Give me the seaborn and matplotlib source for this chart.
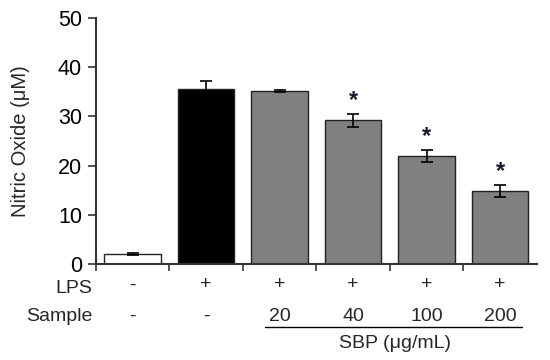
import matplotlib
matplotlib.use('Agg')
import matplotlib.pyplot as plt
import matplotlib.transforms as mtransforms
import numpy as np
import pandas as pd
import seaborn as sns

# data
groups = ['Control', 'LPS', 'SBP20', 'SBP40', 'SBP100', 'SBP200']
no_means = [2.0, 35.5, 35.2, 29.2, 22.0, 14.9]
no_errs = [0.2, 1.7, 0.2, 1.3, 1.2, 1.2]
signif = [False, False, False, True, True, True]
lps_row = ['-', '+', '+', '+', '+', '+']
sample_row = ['-', '-', '20', '40', '100', '200']
bar_colors = ['#ffffff', '#000000', '#808080', '#808080', '#808080', '#808080']

df = pd.DataFrame({'group': groups, 'no': no_means})

sns.set_style('white')
plt.rcParams['font.family'] = ['Liberation Sans', 'DejaVu Sans']

fig = plt.figure(figsize=(5.5, 3.6), dpi=100)
ax = fig.add_axes([0.1745, 0.2667, 0.8015, 0.6833])

sns.barplot(data=df, x='group', y='no', hue='group', palette=bar_colors,
            legend=False, width=0.77, edgecolor='#222222', linewidth=1.0,
            errorbar=None, ax=ax)

x = np.arange(len(groups))
ax.errorbar(x, no_means, yerr=no_errs, fmt='none', ecolor='black',
            elinewidth=1.2, capsize=4, capthick=1.2, zorder=3)

# significance stars
for i in range(len(groups)):
    if signif[i]:
        ax.text(x[i], no_means[i] + no_errs[i] + 0.4, '*', ha='center',
                va='bottom', fontsize=17, fontweight='bold', color='#1a1a2e')

ax.set_xlim(-0.5, len(groups) - 0.5)
ax.set_ylim(0, 50)
ax.set_yticks([0, 10, 20, 30, 40, 50])
ax.set_xticks(np.arange(len(groups)) - 0.5)
ax.set_xticklabels([])
ax.set_xlabel('')
ax.set_ylabel('Nitric Oxide (μM)', fontsize=14.5, labelpad=20)
ax.tick_params(axis='y', direction='out', length=6, width=1.2, pad=4,
               labelsize=15.5, colors='#333333', labelcolor='black', left=True)
ax.tick_params(axis='x', direction='out', length=5, width=1.2,
               colors='#333333', bottom=True)
sns.despine(ax=ax)
for side in ['left', 'bottom']:
    ax.spines[side].set_linewidth(1.5)
    ax.spines[side].set_color('#333333')

# condition table under the axis
trans = mtransforms.blended_transform_factory(ax.transData, ax.transAxes)
ax.text(-0.55, -0.1, 'LPS', transform=trans, ha='right', va='center', fontsize=14)
ax.text(-0.55, -0.212, 'Sample', transform=trans, ha='right', va='center', fontsize=14)
for i in range(len(groups)):
    ax.text(x[i], -0.085, lps_row[i], transform=trans, ha='center', va='center', fontsize=14)
    ax.text(x[i], -0.212, sample_row[i], transform=trans, ha='center', va='center', fontsize=14)
ax.plot([1.8, 5.3], [-0.255, -0.255], transform=trans, color='black',
        linewidth=1.0, clip_on=False)
ax.text(3.57, -0.325, 'SBP (μg/mL)', transform=trans, ha='center', va='center', fontsize=14)

fig.savefig('out.png', dpi=100)
